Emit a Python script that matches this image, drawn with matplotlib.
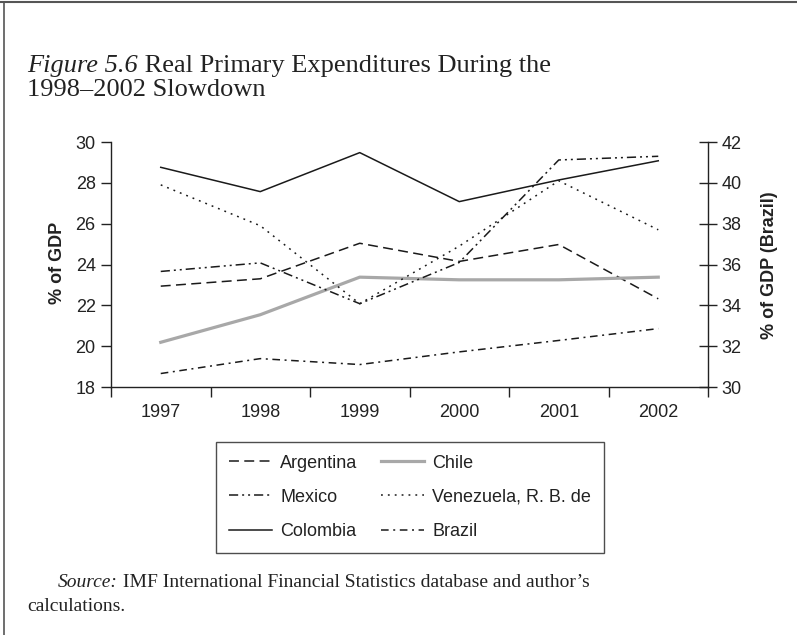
import matplotlib
matplotlib.use("Agg")
import matplotlib.pyplot as plt
from matplotlib.lines import Line2D

# ---- data ----
years = ["1997", "1998", "1999", "2000", "2001", "2002"]
argentina = [22.94, 23.30, 25.04, 24.15, 24.98, 22.32]
chile = [20.19, 21.54, 23.38, 23.25, 23.25, 23.38]
mexico = [23.66, 24.08, 22.08, 24.10, 29.12, 29.30]
venezuela = [27.90, 25.90, 22.08, 24.90, 28.10, 25.70]
colombia = [28.76, 27.57, 29.48, 27.08, 28.14, 29.08]
brazil = [30.66, 31.39, 31.10, 31.72, 32.28, 32.86]   # right axis

left_ticks = [18, 20, 22, 24, 26, 28, 30]
right_ticks = [30, 32, 34, 36, 38, 40, 42]

title_italic = "Figure 5.6"
title_rest = " Real Primary Expenditures During the"
title_line2 = "1998\u20132002 Slowdown"
source_italic = "Source:"
source_rest = " IMF International Financial Statistics database and author\u2019s"
source_line2 = "calculations."

SANS = "Liberation Sans"
SERIF = "Liberation Serif"

W, H = 797, 635
fig = plt.figure(figsize=(W / 100, H / 100), dpi=100)
fig.patch.set_facecolor("white")

ax = fig.add_axes([111 / W, 1 - 387 / H, (708 - 111) / W, (387 - 142) / H])
ax2 = ax.twinx()

x = list(range(len(years)))
black = "#1a1a1a"
l_arg, = ax.plot(x, argentina, color=black, lw=1.1, dashes=(6.5, 3.5), label="Argentina")
l_chi, = ax.plot(x, chile, color="#a8a8a8", lw=2.3, label="Chile")
l_mex, = ax.plot(x, mexico, color=black, lw=1.1, dashes=(6, 2.6, 1.3, 2.6, 1.3, 2.6), label="Mexico")
l_ven, = ax.plot(x, venezuela, color=black, lw=1.1, dashes=(1.2, 3.3), label="Venezuela, R. B. de")
l_col, = ax.plot(x, colombia, color=black, lw=1.1, label="Colombia")
l_bra, = ax2.plot(x, brazil, color=black, lw=1.1, dashes=(5, 3, 1.3, 3), label="Brazil")

for a in (ax, ax2):
    a.set_xlim(-0.5, 5.5)
    a.spines["top"].set_visible(False)
    for s in a.spines.values():
        s.set_linewidth(1.0)
        s.set_color("#222222")

ax.set_ylim(18, 30)
ax2.set_ylim(30, 42)
ax.spines["right"].set_visible(False)
ax2.spines["left"].set_visible(False)
ax2.spines["bottom"].set_visible(False)

ax.set_yticks(left_ticks)
ax.set_yticklabels([str(t) for t in left_ticks])
ax2.set_yticks(right_ticks)
ax2.set_yticklabels([str(t) for t in right_ticks])

ax.set_xticks([i - 0.5 for i in range(len(years) + 1)])
ax.set_xticklabels([])
ax.set_xticks(x, minor=True)
ax.set_xticklabels(years, minor=True)
ax.tick_params(axis="x", which="major", direction="out", length=7, width=1.0, color="#222222")
ax.tick_params(axis="x", which="minor", length=0, pad=12, labelsize=13)
ax.tick_params(axis="y", direction="out", length=7, width=1.0, color="#222222", pad=4, labelsize=13)
ax2.tick_params(axis="y", direction="inout", length=13, width=1.0, color="#222222", pad=3, labelsize=13)

for lab in ax.get_xticklabels(minor=True) + ax.get_yticklabels() + ax2.get_yticklabels():
    lab.set_fontfamily(SANS)
    lab.set_color("#222222")

fig.text(57 / W, 1 - 263 / H, "% of GDP", rotation=90, ha="center", va="center",
         fontfamily=SANS, fontweight="bold", fontsize=13, color="#222222")
fig.text(769 / W, 1 - 265 / H, "% of GDP (Brazil)", rotation=90, ha="center", va="center",
         fontfamily=SANS, fontweight="bold", fontsize=13, color="#222222")

handles = [l_arg, l_mex, l_col, l_chi, l_ven, l_bra]
leg = fig.legend(handles=handles, labels=[h.get_label() for h in handles], ncol=2,
                 loc="upper left", bbox_to_anchor=(216 / W, 1 - 442 / H),
                 bbox_transform=fig.transFigure,
                 prop={"family": SANS, "size": 13}, frameon=True, fancybox=False,
                 edgecolor="#222222", handlelength=2.4, handletextpad=0.45,
                 columnspacing=1.3, labelspacing=0.95, borderpad=0.7, borderaxespad=0)
leg.get_frame().set_linewidth(1.0)
for t in leg.get_texts():
    t.set_color("#222222")

# title
t1 = fig.text(27 / W, 1 - 72 / H, title_italic, fontfamily=SERIF, style="italic",
              fontsize=19, color="#222222", va="baseline", ha="left")
fig.canvas.draw()
r = fig.canvas.get_renderer()
bb = t1.get_window_extent(r)
fig.text(bb.x1 / W, 1 - 72 / H, title_rest, fontfamily=SERIF, fontsize=19,
         color="#222222", va="baseline", ha="left")
fig.text(27 / W, 1 - 96 / H, title_line2, fontfamily=SERIF, fontsize=19,
         color="#222222", va="baseline", ha="left")

# source
s1 = fig.text(58 / W, 1 - 587 / H, source_italic, fontfamily=SERIF, style="italic",
              fontsize=14, color="#222222", va="baseline", ha="left")
fig.canvas.draw()
bb2 = s1.get_window_extent(r)
fig.text(bb2.x1 / W, 1 - 587 / H, source_rest, fontfamily=SERIF, fontsize=14,
         color="#222222", va="baseline", ha="left")
fig.text(27 / W, 1 - 611 / H, source_line2, fontfamily=SERIF, fontsize=14,
         color="#222222", va="baseline", ha="left")

# page frame (top and left edges)
fig.add_artist(Line2D([0, 1], [1 - 2 / H, 1 - 2 / H], transform=fig.transFigure,
                      color="#555555", lw=1.5))
fig.add_artist(Line2D([4 / W, 4 / W], [0, 1 - 2 / H], transform=fig.transFigure,
                      color="#555555", lw=1.2))

fig.savefig("out.png", dpi=100)
